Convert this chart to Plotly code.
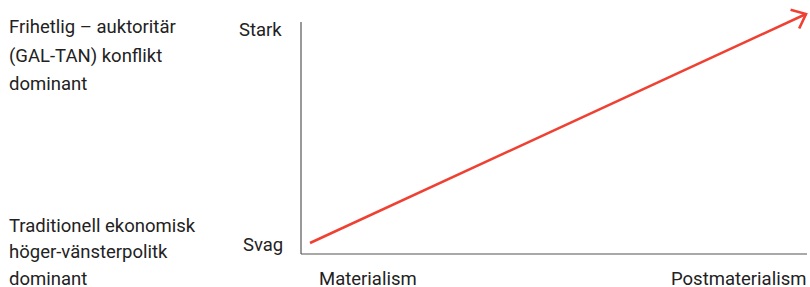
import math
import plotly.graph_objects as go

# ---- data ----
x_categories = ["Materialism", "Postmaterialism"]
y_levels = ["Svag", "Stark"]
trend_x = [0, 1]          # Materialism -> Postmaterialism
trend_y = [0, 1]          # Svag -> Stark
top_label_lines = ["Frihetlig – auktoritär", "(GAL-TAN) konflikt", "dominant"]
bottom_label_lines = ["Traditionell ekonomisk", "höger-vänsterpolitk", "dominant"]

# ---- layout geometry ----
W, H = 810, 287
L, R, T, B = 298, 0, 4, 30
PW, PH = W - L - R, H - T - B
# pixel anchors for data (x=0 -> 310, x=1 -> 806; y=0 -> 243, y=1 -> 14)
X0PX, X1PX, Y0PX, Y1PX = 310, 806, 243, 14
sx = (X1PX - X0PX)
sy = (Y0PX - Y1PX)
xr = [(L - X0PX) / sx, (W - R - X0PX) / sx]
yr = [-(H - B - Y0PX) / sy, (Y0PX - T) / sy]

def dx(px):
    return (px - X0PX) / sx

def dy(py):
    return (Y0PX - py) / sy

def px_paper_x(px):
    return (px - L) / PW

def px_paper_y(py):
    return (H - B - py) / PH

RED = "#ef4133"
AX = "#555555"
TXT = "#222222"
FONT = "Roboto"
FS = 18.5
BASE_OFF = 0.35 * FS   # baseline offset below the middle of a text line

fig = go.Figure()
fig.add_trace(go.Scatter(x=trend_x, y=trend_y, mode="lines",
                         line=dict(color=RED, width=2.6), hoverinfo="skip",
                         showlegend=False))

# chevron arrowhead computed from the end of the trend line
ex, ey = trend_x[-1], trend_y[-1]
vx = (trend_x[-2] - ex) * sx
vy = -(trend_y[-2] - ey) * sy  # pixel space (y down)
n = math.hypot(vx, vy)
vx, vy = vx / n, vy / n
arm = 16
ang = math.radians(40)
hx, hy = [], []
for s in (1, -1):
    ca, sa = math.cos(s * ang), math.sin(s * ang)
    ax_ = vx * ca - vy * sa
    ay_ = vx * sa + vy * ca
    hx += [ex + ax_ * arm / sx]
    hy += [ey - ay_ * arm / sy]
fig.add_trace(go.Scatter(x=[hx[0], ex, hx[1]], y=[hy[0], ey, hy[1]], mode="lines",
                         line=dict(color=RED, width=2.6), hoverinfo="skip",
                         showlegend=False))

# axes lines
fig.add_shape(type="line", x0=dx(301), x1=dx(301), y0=dy(254), y1=dy(22),
              line=dict(color=AX, width=1.2))
fig.add_shape(type="line", x0=dx(301), x1=dx(807), y0=dy(254), y1=dy(254),
              line=dict(color=AX, width=1.2))

ann = []
def text(s, px, baseline, xanchor):
    ann.append(dict(text=s, xref="paper", yref="paper", x=px_paper_x(px),
                    y=px_paper_y(baseline - BASE_OFF), xanchor=xanchor, yanchor="middle",
                    showarrow=False, font=dict(family=FONT, size=FS, color=TXT)))

# y level labels
text(y_levels[1], 284, 36.5, "right")
text(y_levels[0], 285, 251, "right")
# x category labels
text(x_categories[0], 317, 285, "left")
text(x_categories[1], 808, 285, "right")
# left side descriptions
for i, s in enumerate(top_label_lines):
    text(s, 7, 33.3 + i * 28.7, "left")
for i, s in enumerate(bottom_label_lines):
    text(s, 7, 232 + i * 26.5, "left")

fig.update_layout(
    width=W, height=H, margin=dict(l=L, r=R, t=T, b=B),
    paper_bgcolor="white", plot_bgcolor="white",
    xaxis=dict(range=xr, visible=False, fixedrange=True),
    yaxis=dict(range=yr, visible=False, fixedrange=True),
    annotations=ann, showlegend=False,
)
fig.write_html("out.html", config={"displayModeBar": False},
               post_script="document.body.style.margin='0px';document.body.style.overflow='hidden';")
